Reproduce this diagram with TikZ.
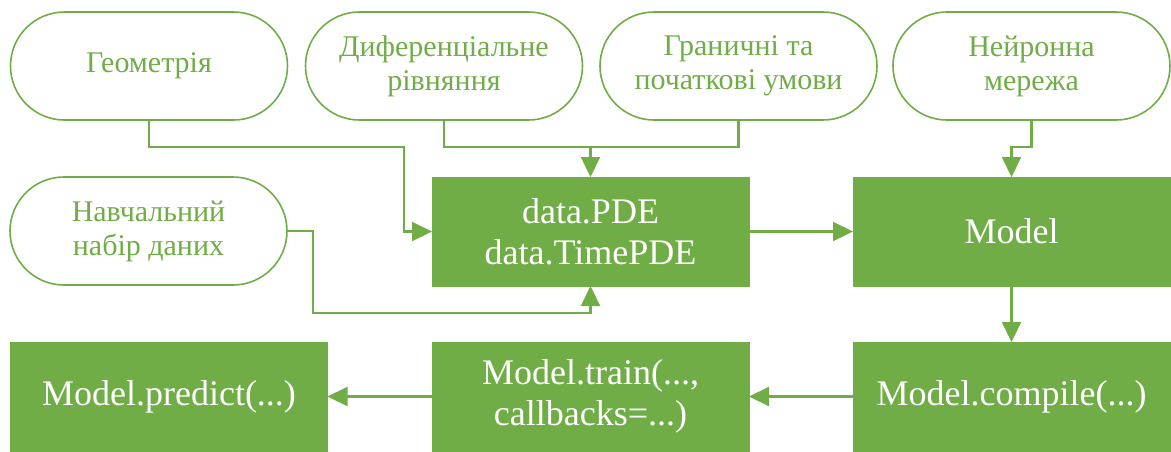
\documentclass[tikz,border=0pt]{standalone}
\usepackage{fontspec}
\setmainfont{LiberationSerif}[Extension=.ttf, UprightFont=*-Regular, BoldFont=*-Bold]
\usetikzlibrary{arrows.meta}
\definecolor{leaf}{HTML}{70AD47}
\begin{document}
\begin{tikzpicture}[x=1pt,y=-1pt,
  inputnode/.style={draw=leaf, line width=1.6pt, fill=white, rounded corners=54pt,
    minimum width=277pt, minimum height=108pt, inner sep=0pt, outer sep=0pt,
    align=center, text=leaf, font=\rmfamily\fontsize{30}{34}\selectfont},
  stepbox/.style={fill=leaf, draw=leaf, line width=0.6pt,
    minimum width=317pt, minimum height=109pt, inner sep=0pt, outer sep=0pt,
    align=center, text=white, font=\rmfamily\fontsize{36}{41}\selectfont},
  link/.style={draw=leaf, line width=2.2pt},
  flow/.style={link, -{Triangle[length=20pt,width=19pt]}}]
\useasboundingbox (0,0) rectangle (1171,451);

% input blocks
\node[inputnode] (geo)  at (149,66)    {Геометрія};
\node[inputnode] (dif)  at (444,66)    {Диференціальне\\рівняння};
\node[inputnode] (gran) at (738.5,66)  {Граничні та\\початкові умови};
\node[inputnode] (neir) at (1031.5,66) {Нейронна\\мережа};
\node[inputnode] (data-set) at (148.5,231) {Навчальний\\набір даних};

% processing steps
\node[stepbox] (pde)     at (590.5,231.5)  {data.PDE\\data.TimePDE};
\node[stepbox] (model)   at (1011.5,231.5) {Model};
\node[stepbox] (compile) at (1011.5,396.5) {Model.compile(...)};
\node[stepbox] (train)   at (590.5,396.5)  {Model.train(...,\\callbacks=...)};
\node[stepbox] (predict) at (169,396.5)    {Model.predict(...)};

% junctions of the elbow connectors
\coordinate (geoj) at (404,147);
\coordinate (bus)  at (590.5,147);
\coordinate (nj)   at (1011.5,147);
\coordinate (lj)   at (313,313);

\draw[flow] (geo.south) |- (geoj) |- (pde.west);
\draw[link] (dif.south) |- (bus);
\draw[link] (gran.south) |- (bus);
\draw[flow] (bus) -- (pde.north);
\draw[flow] (neir.south) |- (nj) -- (model.north);
\draw[flow] (data-set.east) -| (lj) -| (pde.south);
\draw[flow] (pde.east) -- (model.west);
\draw[flow] (model.south) -- (compile.north);
\draw[flow] (compile.west) -- (train.east);
\draw[flow] (train.west) -- (predict.east);
\end{tikzpicture}
\end{document}
